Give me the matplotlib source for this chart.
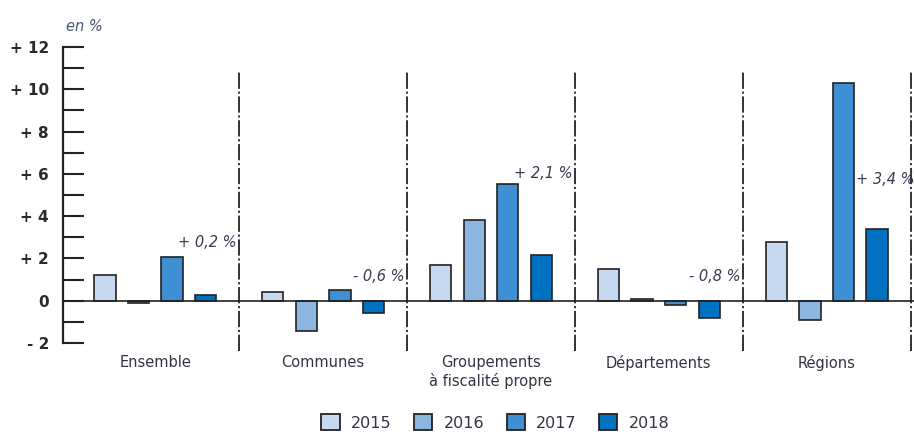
import numpy as np
import matplotlib
matplotlib.use('Agg')
import matplotlib.pyplot as plt
from matplotlib.patches import Patch

categories = ['Ensemble', 'Communes', 'Groupements\nà fiscalité propre', 'Départements', 'Régions']
years = ['2015', '2016', '2017', '2018']
v2015 = [1.2, 0.4, 1.7, 1.5, 2.8]
v2016 = [-0.1, -1.45, 3.8, 0.1, -0.9]
v2017 = [2.05, 0.5, 5.5, -0.2, 10.3]
v2018 = [0.25, -0.6, 2.15, -0.8, 3.4]
notes = ['+ 0,2 %', '- 0,6 %', '+ 2,1 %', '- 0,8 %', '+ 3,4 %']
note_y = [2.75, 1.15, 6.0, 1.15, 5.75]

colors = ['#c6d9f1', '#8cb5df', '#3e8fd3', '#0070c0']
txt = '#3a3a55'

fig = plt.figure(figsize=(9.14, 4.41), dpi=100)
ax = fig.add_axes([0.0689, 0.2222, 0.9311, 0.6712])

x = np.arange(len(categories))
step = 0.2
width = 0.127
series = [v2015, v2016, v2017, v2018]
for i, vals in enumerate(series):
    ax.bar(x + (i - 1.5) * step, vals, width, color=colors[i],
           edgecolor='#222222', linewidth=1.2, zorder=3)

ax.set_xlim(-0.55, 4.52)
ax.set_ylim(-2, 12)
ax.axhline(0, color='#222222', lw=1.2, zorder=4)

# dashed separators between groups
for s in x + 0.5:
    ax.plot([s, s], [-2.4, 10.9], color='#222222', lw=1.3,
            dashes=(9, 1.5, 1.2, 1.5), clip_on=False, zorder=2)

for sp in ['top', 'right', 'bottom']:
    ax.spines[sp].set_visible(False)
ax.spines['left'].set_linewidth(1.6)
ax.spines['left'].set_color('#222222')

ax.set_xticks([])
ax.set_yticks(range(-2, 13, 2))
ax.set_yticks(range(-2, 13), minor=True)
ylabels = []
for v in range(-2, 13, 2):
    if v > 0:
        ylabels.append('+ %d' % v)
    elif v < 0:
        ylabels.append('- %d' % -v)
    else:
        ylabels.append('0')
ax.set_yticklabels(ylabels, fontsize=11, fontweight='bold', color='#2a2a2a')
ax.tick_params(axis='y', which='both', direction='in', length=15, width=1.5,
               color='#222222', pad=10)

ax.text(0.004, 1.045, 'en %', transform=ax.transAxes, fontsize=10.5,
        style='italic', color='#4a5570', ha='left', va='bottom')

for i, c in enumerate(categories):
    ax.text(x[i], -2.55, c, ha='center', va='top', fontsize=10.5,
            color='#333344', linespacing=1.25, clip_on=False)

for i, n in enumerate(notes):
    if i == len(notes) - 1:
        ax.text(x[i] + 0.5 * step + width / 2 + 0.01, note_y[i], n, ha='left',
                va='center', fontsize=10.5, style='italic', color=txt, clip_on=False)
    else:
        ax.text(x[i] + 0.485, note_y[i], n, ha='right', va='center',
                fontsize=10.5, style='italic', color=txt)

handles = [Patch(facecolor=colors[i], edgecolor='#222222', linewidth=1.3,
                 label=years[i]) for i in range(4)]
fig.legend(handles=handles, loc='center', bbox_to_anchor=(0.542, 0.042),
           ncol=4, frameon=False, fontsize=11.5, handlelength=1.15,
           handleheight=1.15, columnspacing=1.4, handletextpad=0.7,
           labelcolor='#333344')

fig.savefig('out.png', dpi=100)
